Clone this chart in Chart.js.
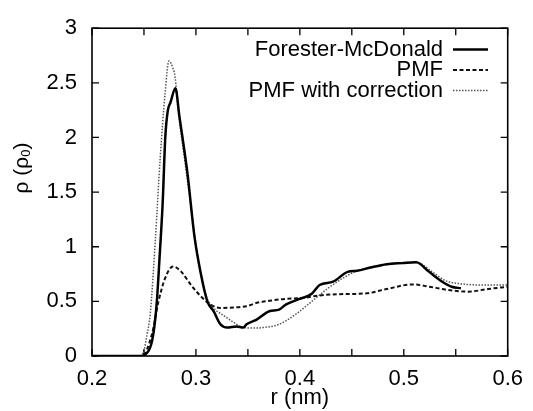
<!DOCTYPE html>
<html>
<head>
<meta charset="utf-8">
<script src="https://cdn.jsdelivr.net/npm/chart.js@4"></script>
<style>
  html, body { margin: 0; padding: 0; background: #fff; }
  #wrap { width: 533px; height: 411px; }
</style>
</head>
<body>
<div id="wrap"><canvas id="rdf" width="533" height="411"></canvas></div>
<script>
// --- data ---
const rFM   = [0.20, 0.245, 0.2546, 0.259, 0.2624, 0.265, 0.268, 0.2705, 0.273, 0.2755, 0.2803, 0.284, 0.292, 0.2985, 0.3048, 0.311, 0.317, 0.3236, 0.33, 0.339, 0.3456, 0.3487, 0.358, 0.3706, 0.38, 0.3864, 0.399, 0.4115, 0.419, 0.432, 0.446, 0.455, 0.468, 0.4835, 0.499, 0.512, 0.5244, 0.537, 0.546, 0.555];
const rhoFM = [0, 0, 0.05, 0.2, 0.5, 0.9, 1.4, 2.0, 2.25, 2.32, 2.45, 2.2, 1.66, 1.1, 0.75, 0.5, 0.41, 0.29, 0.26, 0.27, 0.26, 0.29, 0.33, 0.41, 0.425, 0.47, 0.52, 0.57, 0.65, 0.68, 0.77, 0.78, 0.81, 0.84, 0.85, 0.857, 0.77, 0.68, 0.634, 0.62];

const rPMF   = [0.20, 0.248, 0.2577, 0.264, 0.2703, 0.278, 0.286, 0.2953, 0.3048, 0.314, 0.3236, 0.339, 0.3487, 0.358, 0.3706, 0.3864, 0.402, 0.4177, 0.4365, 0.4647, 0.4835, 0.5087, 0.5244, 0.543, 0.562, 0.581, 0.60];
const rhoPMF = [0, 0, 0.2, 0.5, 0.71, 0.82, 0.77, 0.65, 0.545, 0.47, 0.44, 0.446, 0.455, 0.485, 0.505, 0.523, 0.53, 0.553, 0.565, 0.574, 0.613, 0.655, 0.634, 0.604, 0.589, 0.613, 0.634];

const rCorr   = [0.20, 0.245, 0.25, 0.253, 0.256, 0.261, 0.2656, 0.2703, 0.274, 0.278, 0.28, 0.2828, 0.289, 0.2953, 0.3016, 0.3095, 0.317, 0.3268, 0.336, 0.3456, 0.358, 0.3644, 0.38, 0.3958, 0.4115, 0.4271, 0.4428, 0.4553, 0.474, 0.493, 0.512, 0.5275, 0.54, 0.5558, 0.5746, 0.60];
const rhoCorr = [0, 0, 0.05, 0.2, 0.38, 1.07, 1.81, 2.40, 2.70, 2.63, 2.55, 2.26, 1.81, 1.36, 0.92, 0.56, 0.44, 0.37, 0.31, 0.26, 0.256, 0.26, 0.29, 0.38, 0.5, 0.62, 0.72, 0.78, 0.82, 0.85, 0.857, 0.77, 0.69, 0.66, 0.65, 0.65];

const seriesNames = ['Forester-McDonald', 'PMF', 'PMF with correction'];
const xTicks = [0.2, 0.3, 0.4, 0.5, 0.6];
const yTicks = [0, 0.5, 1, 1.5, 2, 2.5, 3];
const xTitle = 'r (nm)';

const FONT = '"Liberation Sans", Arial, sans-serif';

function pts(xs, ys) {
    return xs.map((x, i) => ({ x: x, y: ys[i] }));
}

// inward ticks on all four sides, frame, axis titles, legend
const framePlugin = {
    id: 'frame',
    afterDraw(chart) {
        const ctx = chart.ctx;
        const a = chart.chartArea;
        const xs = chart.scales.x, ys = chart.scales.y;
        ctx.save();
        ctx.strokeStyle = '#000';
        ctx.lineWidth = 1.6;
        ctx.setLineDash([]);
        ctx.strokeRect(a.left, a.top, a.right - a.left, a.bottom - a.top);

        ctx.lineWidth = 1.3;
        const tl = 7;
        for (let v = 0.2; v <= 0.6001; v += 0.05) {
            const px = xs.getPixelForValue(v);
            ctx.beginPath();
            ctx.moveTo(px, a.bottom); ctx.lineTo(px, a.bottom - tl);
            ctx.moveTo(px, a.top); ctx.lineTo(px, a.top + tl);
            ctx.stroke();
        }
        yTicks.forEach(v => {
            const py = ys.getPixelForValue(v);
            ctx.beginPath();
            ctx.moveTo(a.left, py); ctx.lineTo(a.left + tl, py);
            ctx.moveTo(a.right, py); ctx.lineTo(a.right - tl, py);
            ctx.stroke();
        });

        // axis titles
        ctx.fillStyle = '#000';
        ctx.font = '22px ' + FONT;
        ctx.textAlign = 'center';
        ctx.textBaseline = 'middle';
        ctx.fillText(xTitle, (a.left + a.right) / 2, 398);

        ctx.save();
        ctx.translate(22, 168);
        ctx.rotate(-Math.PI / 2);
        ctx.textAlign = 'left';
        ctx.font = '21px ' + FONT;
        const w1 = ctx.measureText('\u03C1 (\u03C1').width;
        ctx.font = '13px ' + FONT;
        const w2 = ctx.measureText('0').width;
        ctx.font = '21px ' + FONT;
        const w3 = ctx.measureText(')').width;
        const x0 = -(w1 + w2 + w3) / 2;
        ctx.fillText('\u03C1 (\u03C1', x0, 0);
        ctx.font = '13px ' + FONT;
        ctx.fillText('0', x0 + w1, 4);
        ctx.font = '21px ' + FONT;
        ctx.fillText(')', x0 + w1 + w2, 0);
        ctx.restore();

        // legend
        ctx.font = '22px ' + FONT;
        ctx.textAlign = 'right';
        chart.data.datasets.forEach((ds, i) => {
            const y = 49.5 + i * 20.5;
            ctx.fillStyle = '#000';
            ctx.fillText(ds.label, 443, y);
            ctx.strokeStyle = ds.borderColor;
            ctx.lineWidth = ds.borderWidth;
            ctx.setLineDash(ds.borderDash || []);
            ctx.beginPath();
            ctx.moveTo(453, y); ctx.lineTo(488, y);
            ctx.stroke();
        });
        ctx.restore();
    }
};

function init() {
    const ctx = document.getElementById('rdf').getContext('2d');
    new Chart(ctx, {
        type: 'line',
        data: {
            datasets: [{
                label: seriesNames[0],
                data: pts(rFM, rhoFM),
                borderColor: '#000',
                borderWidth: 2.5,
                borderDash: []
            }, {
                label: seriesNames[1],
                data: pts(rPMF, rhoPMF),
                borderColor: '#111',
                borderWidth: 2,
                borderDash: [4, 2.5]
            }, {
                label: seriesNames[2],
                data: pts(rCorr, rhoCorr),
                borderColor: '#555',
                borderWidth: 1.5,
                borderDash: [1.5, 1.5]
            }]
        },
        options: {
            responsive: false,
            animation: false,
            elements: {
                point: { radius: 0 },
                line: { tension: 0, cubicInterpolationMode: 'monotone', fill: false }
            },
            layout: { padding: { top: 20, right: 16, left: 0, bottom: 0 } },
            scales: {
                x: {
                    type: 'linear',
                    min: 0.2, max: 0.6,
                    afterBuildTicks: s => { s.ticks = xTicks.map(v => ({ value: v })); },
                    afterFit: s => { s.height = 55; },
                    grid: { display: false, drawTicks: false },
                    border: { display: false },
                    ticks: {
                        color: '#000',
                        padding: 10,
                        font: { family: FONT, size: 22 },
                        callback: v => String(v)
                    }
                },
                y: {
                    min: 0, max: 3,
                    afterBuildTicks: s => { s.ticks = yTicks.map(v => ({ value: v })); },
                    afterFit: s => { s.width = 92; },
                    grid: { display: false, drawTicks: false },
                    border: { display: false },
                    ticks: {
                        color: '#000',
                        padding: 15,
                        font: { family: FONT, size: 22 },
                        callback: v => String(v)
                    }
                }
            },
            plugins: {
                legend: { display: false },
                tooltip: { enabled: false }
            }
        },
        plugins: [framePlugin]
    });
}

window.onload = init;
</script>
</body>
</html>
